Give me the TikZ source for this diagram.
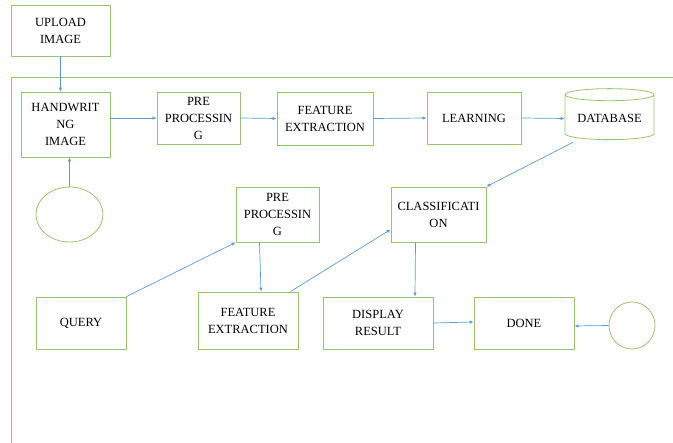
\documentclass[tikz,border=0pt]{standalone}
\usepackage{fontspec}
\setmainfont{Liberation Serif}
\usepackage{tikz}
\usetikzlibrary{positioning,shapes.geometric,arrows.meta}

\definecolor{boxgreen}{RGB}{150,195,110}
\definecolor{flowblue}{RGB}{91,155,213}

\begin{document}
\begin{tikzpicture}[
    x=1pt, y=-1pt,
    box/.style={rectangle, draw=boxgreen, line width=0.8pt, align=center,
                font=\fontsize{12.5}{17}\selectfont, inner sep=1pt},  % Style for the process boxes
    blob/.style={ellipse, draw=boxgreen, line width=0.8pt},              % Style for the start/end marks
    db/.style={cylinder, shape border rotate=90, aspect=0.17, draw=boxgreen,
               line width=0.8pt, font=\fontsize{12.5}{17}\selectfont},  % Style for the database
    flow/.style={draw=flowblue, line width=0.7pt, -{Latex[length=4pt,width=3.5pt]}} % Style for the arrows
    ]
    \useasboundingbox (0,0) rectangle (673,443);

    % Open frame round the system
    \draw[boxgreen, line width=0.8pt] (11,443) -- (11,77) -- (673,77);

    % Training row
    \node[box, minimum width=99pt, minimum height=51pt] (upload) at (60.5,30.5) {UPLOAD\\IMAGE};
    \node[box, minimum width=89pt, minimum height=65pt] (hw) at (65.5,124.5) {HANDWRIT\\NG\\IMAGE};
    \node[box, minimum width=83pt, minimum height=52pt] (pre1) at (198.5,118) {PRE\\PROCESSIN\\G};
    \node[box, minimum width=96pt, minimum height=53pt] (feat1) at (325,118.5) {FEATURE\\EXTRACTION};
    \node[box, minimum width=94pt, minimum height=52pt] (learn) at (474,118) {LEARNING};
    \node[db, minimum width=89pt, minimum height=51pt] (data) at (609.5,118.5) {DATABASE};
    \node[blob, minimum width=67pt, minimum height=55pt] (start) at (69.5,214.5) {};

    % Query row
    \node[box, minimum width=83pt, minimum height=55pt] (pre2) at (277.5,214.5) {PRE\\PROCESSIN\\G};
    \node[box, minimum width=95pt, minimum height=55pt] (class) at (438.5,214.5) {CLASSIFICATI\\ON};
    \node[box, minimum width=90pt, minimum height=52pt] (query) at (81,323) {QUERY};
    \node[box, minimum width=100pt, minimum height=57pt] (feat2) at (248,320.5) {FEATURE\\EXTRACTION};
    \node[box, minimum width=110pt, minimum height=52pt] (show) at (378,323) {DISPLAY\\RESULT};
    \node[box, minimum width=100pt, minimum height=52pt] (done) at (524,323) {DONE};
    \node[blob, minimum width=46pt, minimum height=47pt] (stop) at (632,325.5) {};

    % Arrows
    \draw[flow] (upload.south) -- (hw.north -| upload.south);
    \draw[flow] (hw.east |- pre1.west) -- (pre1.west);
    \draw[flow] (pre1.east) -- (feat1.west);
    \draw[flow] (feat1.east) -- (learn.west);
    \draw[flow] (learn.east) -- (data.west);
    \draw[flow] (start.north) -- (hw.south -| start.north);
    \draw[flow] ([xshift=-36pt,yshift=-2pt]data.south) -- (class.north east);
    \draw[flow] (query.north east) -- (pre2.south west);
    \draw[flow] ([xshift=-18pt]pre2.south) -- ([xshift=13pt]feat2.north);
    \draw[flow] ([xshift=-8pt]feat2.north east) -- ([yshift=-15pt]class.west);
    \draw[flow] ([xshift=-23pt]class.south) -- ([xshift=37pt]show.north);
    \draw[flow] (show.east) -- ([yshift=1pt]done.west);
    \draw[flow] (stop.west) -- ([yshift=-3pt]done.east);

\end{tikzpicture}
\end{document}
